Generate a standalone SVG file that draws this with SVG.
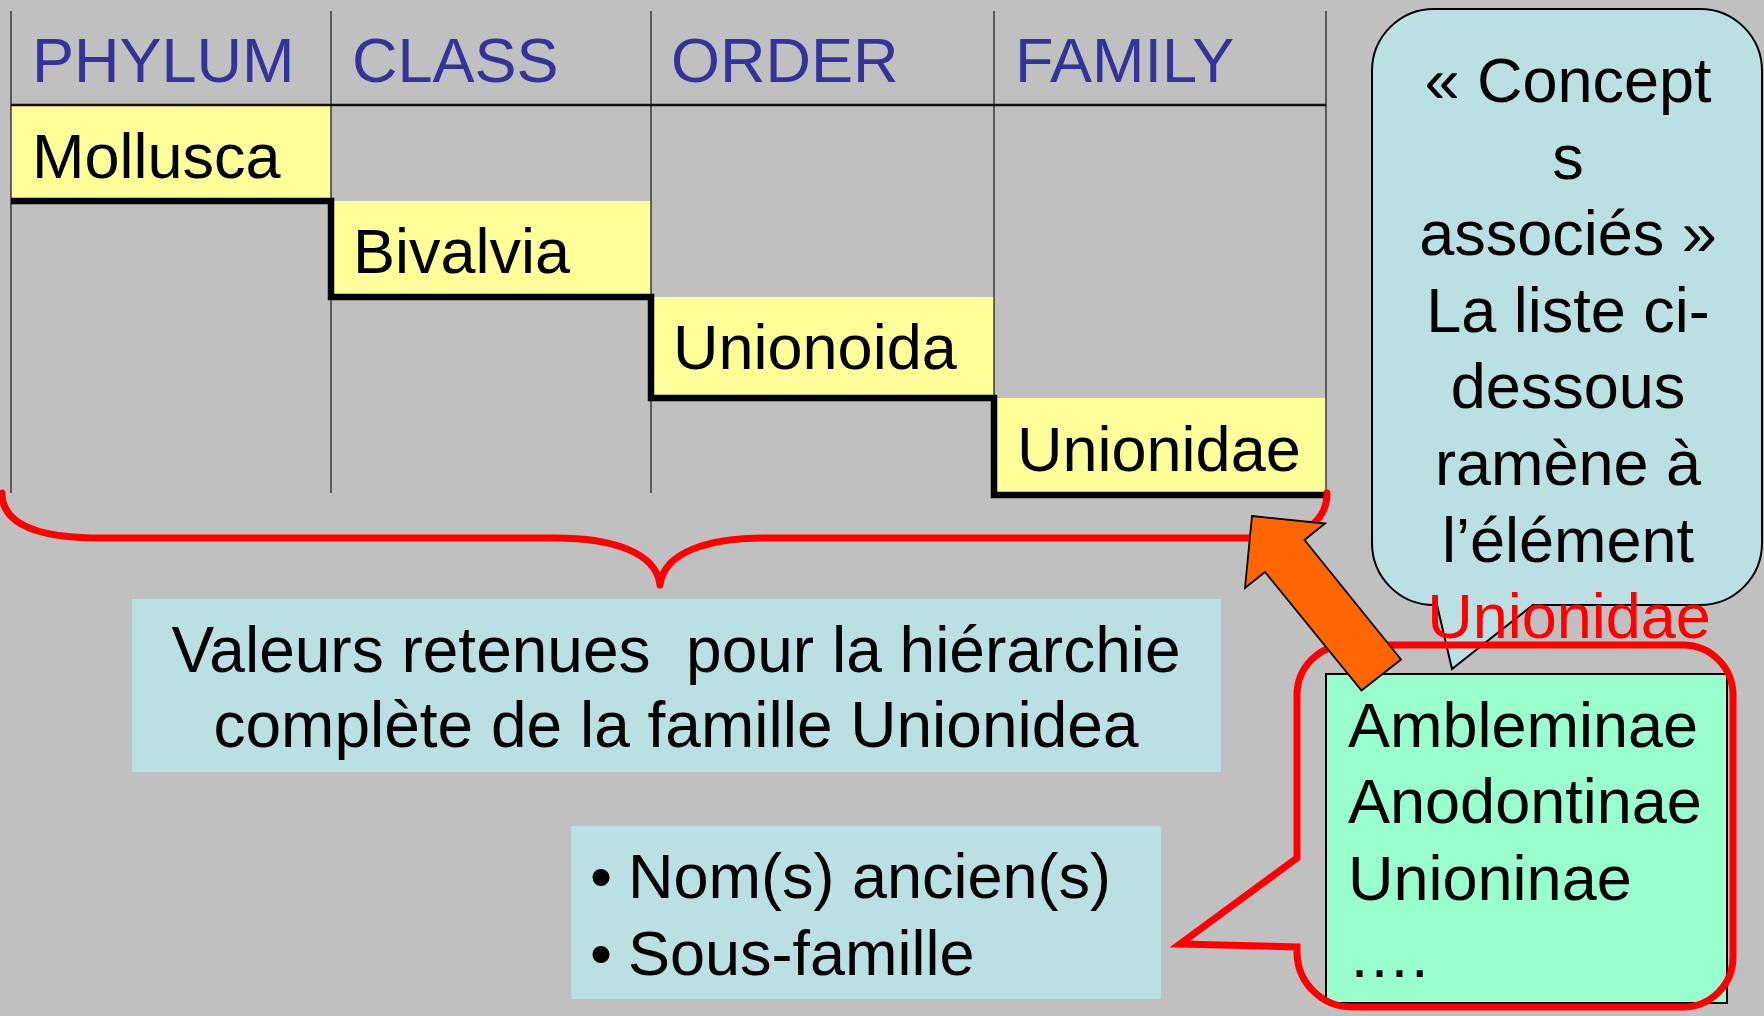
<svg xmlns="http://www.w3.org/2000/svg" width="1764" height="1016" viewBox="0 0 1764 1016">
<style>
text{font-family:"Liberation Sans",Arial,sans-serif;font-size:63px;fill:#000}
.hdr{fill:#333399}
.cell{fill:#FFFF99}
.grid{stroke:#222;stroke-width:1.3;fill:none}
.step{stroke:#000;stroke-width:6.5;fill:none}
.lb{fill:#BBE0E3}
.mid{text-anchor:middle}
.big{font-size:64px}
</style>
<rect width="1764" height="1016" fill="#C0C0C0"/>

<g id="table">
  <rect class="cell" x="11" y="106" width="320" height="95"/>
  <rect class="cell" x="331" y="201" width="320" height="96"/>
  <rect class="cell" x="651" y="297" width="343" height="101"/>
  <rect class="cell" x="994" y="398" width="332" height="97"/>
  <path class="grid" d="M11,11V493M331,11V493M651,11V493M994,11V493M1326,11V493"/>
  <path d="M11,105H1326" stroke="#111" stroke-width="2.5"/>
  <path class="step" d="M11,201H331V297H651V398H994V495H1326"/>
  <text class="hdr" x="32" y="82">PHYLUM</text>
  <text class="hdr" x="352" y="82">CLASS</text>
  <text class="hdr" x="671" y="82">ORDER</text>
  <text class="hdr" x="1015" y="82">FAMILY</text>
  <text x="32" y="178">Mollusca</text>
  <text x="353" y="273">Bivalvia</text>
  <text x="673" y="369">Unionoida</text>
  <text x="1017" y="471">Unionidae</text>
</g>

<g id="connectors">
  <path id="brace" d="M2,493C2,525 40,538 100,538L555,538C612,538 656,552 660,585C664,552 708,538 765,538L1265,538C1305,538 1327,520 1327,493" fill="none" stroke="#FF0000" stroke-width="7" stroke-linecap="round" stroke-linejoin="round"/>
</g>

<g id="valeurs">
  <rect class="lb" x="132" y="599" width="1089" height="173"/>
  <text class="mid big" x="676" y="672" style="white-space:pre">Valeurs retenues  pour la hiérarchie</text>
  <text class="mid big" x="676" y="747">complète de la famille Unionidea</text>
</g>

<g id="bullets">
  <rect class="lb" x="571" y="826" width="590" height="173"/>
  <text x="590" y="898">•</text>
  <text x="628" y="898">Nom(s) ancien(s)</text>
  <text x="590" y="975">•</text>
  <text x="628" y="975">Sous-famille</text>
</g>

<g id="concepts">
  <path class="lb" stroke="#000" stroke-width="2" d="M1434,9H1700A62,62 0 0 1 1762,71V543A62,62 0 0 1 1700,605H1533L1452,669L1437,605H1434A62,62 0 0 1 1372,543V71A62,62 0 0 1 1434,9Z"/>
  <text class="mid" x="1568" y="102">« Concept</text>
  <text class="mid" x="1568" y="179">s</text>
  <text class="mid" x="1568" y="255">associés »</text>
  <text class="mid" x="1568" y="332">La liste ci-</text>
  <text class="mid" x="1568" y="408">dessous</text>
  <text class="mid" x="1568" y="485">ramène à</text>
  <text class="mid" x="1568" y="562">l’élément</text>
</g>

<g id="sousfamilles">
  <rect x="1326" y="674" width="401" height="329" fill="#99FFCC" stroke="#000" stroke-width="2"/>
  <text x="1348" y="747">Ambleminae</text>
  <text x="1348" y="823">Anodontinae</text>
  <text x="1348" y="900">Unioninae</text>
  <text x="1348" y="977">….</text>
</g>

<g id="callout">
  <path d="M1347,645H1683A50,50 0 0 1 1733,695V957A50,50 0 0 1 1683,1007H1352A55,55 0 0 1 1297,952V947L1180,944L1297,858V695A50,50 0 0 1 1347,645Z" fill="none" stroke="#FF0000" stroke-width="7" stroke-linejoin="miter"/>
</g>

<text class="mid" x="1569" y="638" style="fill:#FF0000">Unionidae</text>

<g id="arrow">
  <polygon points="1252,516 1325,523.5 1304.5,540 1401,659.5 1361.5,690.5 1265,572 1245,588" fill="#FF6600" stroke="#000" stroke-width="1.8" stroke-linejoin="miter"/>
</g>
</svg>
